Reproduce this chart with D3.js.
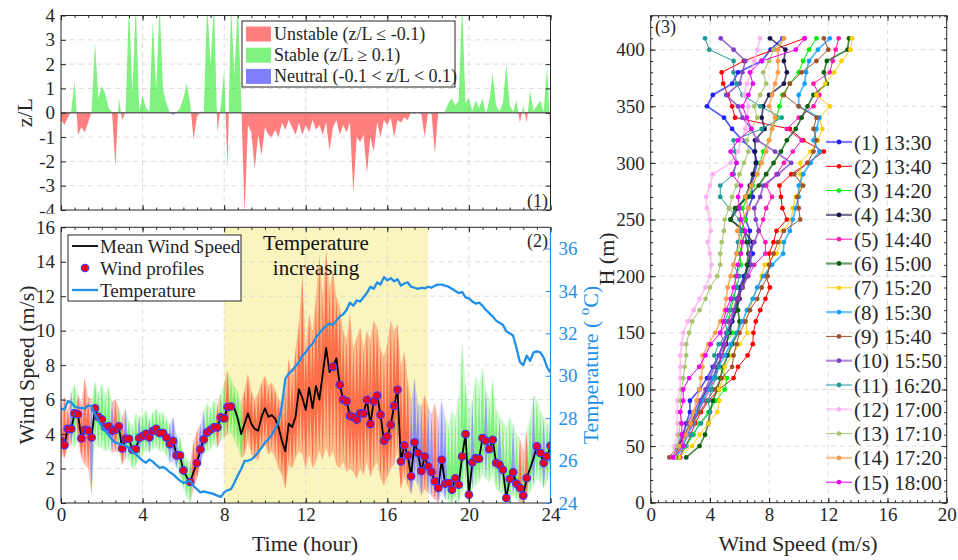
<!DOCTYPE html>
<html>
<head>
<meta charset="utf-8">
<script src="https://cdn.jsdelivr.net/npm/d3@7"></script>
<style>
  body { margin: 0; background: #fff; }
  svg { display: block; }
  svg text { font-family: 'Liberation Serif', 'Times New Roman', serif; }
</style>
</head>
<body>
<svg id="chart" width="958" height="560"></svg>
<script>
// ---- data (10-minute samples, index i -> hour i/6) ----
var sampleHours = 10 / 60;

var zL = [-0.3,-0.5,-0.2,0.05,1.3,-0.9,-0.6,-0.8,-0.4,0.05,
  2.9,0.6,1.1,0.8,0.2,0.04,-2.2,0.6,-0.3,0.05,
  4.5,0.8,4.5,0.03,0.7,0.2,0.05,3.8,0.9,4.5,
  1.0,0.4,0.02,-0.08,0.03,0.2,0.6,1.2,0.4,-1.1,
  -0.15,0.05,0.02,4.5,2.0,4.5,-0.8,0.3,1.7,-2.3,
  4.5,1.5,4.5,0.6,-4.2,-0.5,-0.8,-2.3,-0.9,-1.75,
  -0.6,-0.9,-1.0,-0.7,-1.0,-0.4,-0.7,-0.3,-0.6,-0.9,
  -0.4,-0.9,-0.5,-0.8,-0.3,-0.7,-0.5,-0.9,-0.4,-1.55,
  -0.6,-0.3,-0.9,-0.5,-0.8,-0.4,-3.3,-1.0,-1.2,-0.9,
  -2.5,-1.0,-1.6,-0.4,-1.0,-0.3,-0.5,-0.2,-1.0,-0.3,
  -0.4,-0.2,-0.3,0.02,-0.05,0.03,-0.06,-1.0,0.04,-0.05,
  -1.7,0.05,-0.04,0.06,0.4,0.6,0.3,0.5,4.5,0.4,
  0.6,0.06,0.5,0.2,0.6,-0.05,0.5,1.6,0.3,0.05,
  0.4,2.0,0.3,0.05,0.5,-0.4,0.3,-0.4,0.9,0.07,
  0.3,0.5,0.04,1.9,-1.0];

var meanWS = [3.6,3.36,4.3,4.3,5.2,5.15,3.75,4.25,4.2,3.8,
  5.5,5.0,4.85,4.4,4.45,4.2,4.25,4.45,3.17,3.73,
  3.73,3.09,3.13,3.77,3.88,4.02,3.8,4.17,4.31,4.06,
  4.06,3.8,3.42,3.6,2.76,2.76,1.89,1.5,1.22,1.8,
  2.32,3.11,3.69,4.1,4.25,4.39,4.39,4.97,4.91,5.57,
  5.6,5.5,4.9,4.0,4.6,5.2,4.6,4.3,4.2,5.0,
  5.5,5.0,5.1,4.9,4.4,3.6,3.0,4.6,4.4,5.0,
  6.6,6.1,5.4,6.7,5.5,6.8,6.0,7.5,9.0,7.6,
  7.9,8.4,6.86,6.0,5.9,5.06,4.99,4.83,5.2,5.2,
  5.99,4.58,5.9,6.24,5.12,3.61,3.86,4.54,5.64,6.57,
  2.42,3.34,2.76,1.55,3.52,2.9,1.86,2.7,2.13,1.8,
  1.26,0.87,2.51,1.12,1.16,0.77,1.43,1.06,2.7,4.0,
  0.48,2.36,2.6,2.57,3.77,3.61,3.13,3.67,2.32,2.22,
  1.93,0.29,1.39,1.78,1.12,0.87,0.43,1.45,2.0,2.6,
  3.29,2.9,2.32,2.71,3.32];

var gustHigh = [5.6,6.2,5.4,6.5,6.9,6.3, 5.8,7.3,6.2,6.0,7.1,6.4,
  7.0,6.3,6.8,5.9,6.0,5.6, 5.0,5.5,4.8,4.5,5.2,5.0,
  5.1,5.4,4.9,5.3,5.5,5.2, 5.3,4.9,4.6,5.0,4.0,3.8,
  3.0,2.6,2.4,3.6,4.2,4.6, 5.4,5.8,5.5,6.0,5.7,6.4,
  7.0,7.7,7.2,6.8,6.5,5.8, 6.6,7.5,6.5,6.0,6.4,7.0,
  7.4,6.8,7.0,6.6,6.0,5.8, 6.5,8.4,7.5,9.0,10.5,13.3,
  9.0,11.0,10.0,12.0,14.4,12.0, 14.7,12.5,13.5,12.0,11.4,10.0,
  9.5,11.0,9.0,9.6,10.2,9.0, 10.0,9.5,10.6,10.2,9.0,8.5,
  9.3,10.6,10.0,10.4,8.0,8.8, 7.2,6.0,7.3,5.8,5.6,6.3,
  5.6,5.2,5.8,4.8,6.0,5.0, 4.5,5.4,5.0,6.2,9.4,7.0,
  5.5,6.0,7.4,6.8,7.9,6.6, 6.0,7.2,5.5,5.0,4.8,4.4,
  5.0,4.6,4.0,3.8,3.0,4.2, 5.0,6.3,6.0,5.4,5.0,4.6,
  4.8];

var gustLow = [2.8,2.6,3.2,3.4,3.2,3.6, 2.6,2.2,2.0,0.4,3.4,3.2,
  3.2,3.0,3.1,2.9,3.0,2.9, 2.2,2.6,2.5,2.0,2.1,2.6,
  2.8,3.0,2.9,3.1,3.2,3.0, 3.0,2.7,2.3,2.4,2.0,1.5,
  0.8,0.3,0.0,0.8,1.4,2.2, 2.8,3.0,3.1,3.4,3.2,3.6,
  3.8,4.0,4.0,3.6,3.2,2.6, 2.8,3.6,2.8,2.6,2.5,3.2,
  3.4,2.8,3.0,2.6,2.0,1.6, 0.8,2.2,2.0,2.6,3.0,2.8,
  2.0,2.8,2.0,2.4,3.0,2.5, 3.2,2.6,3.0,2.2,2.0,2.4,
  1.8,2.0,1.8,1.4,2.0,1.6, 2.4,1.5,2.0,2.4,1.4,1.0,
  1.5,2.0,2.2,3.0,0.8,1.5, 1.0,0.5,1.4,1.0,0.4,0.8,
  0.6,0.4,0.2,0.0,0.6,0.2, 0.1,0.0,0.3,0.0,0.6,1.0,
  0.0,0.8,1.0,1.2,1.6,1.4, 1.2,1.6,0.8,0.6,0.5,0.0,
  0.3,0.4,0.2,0.0,0.0,0.3, 0.6,1.0,1.4,1.2,0.8,1.2,
  1.6];

var tempC = [28.45,28.4,28.8,28.75,28.55,28.5,28.48,28.45,28.6,28.55,
  28.2,27.9,27.6,27.4,27.2,27.0,26.85,26.8,26.75,26.7,
  26.6,26.4,26.3,26.15,26.0,25.9,26.05,25.95,25.8,25.65,
  25.7,25.6,25.45,25.35,25.2,25.05,24.95,25.0,25.05,24.8,
  24.65,24.5,24.55,24.5,24.47,24.42,24.35,24.28,24.5,24.6,
  24.65,24.95,25.3,25.6,25.98,26.0,26.05,26.2,26.4,26.6,
  26.85,27.0,27.2,27.5,27.8,28.6,29.85,30.1,30.25,30.45,
  30.65,30.95,31.1,31.35,31.5,31.8,32.0,32.2,32.35,32.45,
  32.4,32.6,32.8,32.9,33.1,33.45,33.3,33.55,33.5,33.7,
  33.9,34.2,34.1,34.4,34.3,34.65,34.5,34.6,34.45,34.55,
  34.25,34.35,34.4,34.2,34.15,34.1,34.15,34.12,34.2,34.15,
  34.25,34.3,34.3,34.25,34.2,34.1,34.0,33.9,33.95,33.7,
  33.65,33.5,33.4,33.45,33.3,33.1,32.95,32.8,32.6,32.5,
  32.4,32.1,32.0,31.9,31.3,30.65,30.5,30.95,30.7,31.1,
  31.15,31.1,30.85,30.4,30.15];

// samples where a wind profile was taken
var profileIdx = [0,1,2,3,4,5,6,7,8,9,10,11,12,13,14,15,16,17,18,19,
  20,21,22,23,24,25,26,27,28,29,30,31,32,33,34,35,36,38,
  40,41,42,43,44,45,46,47,48,49,50,
  80,82,83,84,85,86,87,88,89,90,91,92,93,94,95,96,97,98,99,
  100,101,102,103,104,105,106,107,108,109,110,111,112,113,114,115,116,117,118,119,
  120,121,122,123,124,125,126,127,128,129,130,131,132,133,134,135,136,137,
  140,141,142,143,144];

// ---- panel 3 profiles ----
var heights = [40,50,60,70,80,90,100,110,120,130,140,150,160,170,180,190,200,210,220,230,
  240,250,260,270,280,290,300,310,320,330,340,350,360,370,380,390,400,410];

var ws1330 = [1.6,1.9,2.2,2.4,2.65,2.65,3.3,3.8,4.2,4.6,4.9,5.2,5.5,5.7,5.9,6.0,6.3,6.6,6.9,6.6,
  6.7,6.4,6.6,6.9,6.8,7.0,7.2,7.0,6.2,5.5,4.95,3.8,4.2,5.5,5.9,7.5,8.1,8.9];
var ws1340 = [1.9,2.4,2.7,3.0,3.4,3.9,4.6,5.6,5.9,6.55,6.9,6.94,7.1,7.4,7.75,8.05,7.8,8.1,8.0,8.3,
  8.5,9.2,8.9,8.8,8.7,9.5,10.6,11.7,10.3,9.4,5.7,5.5,5.2,4.9,4.8,6.3,8.3,10.4];
var ws1420 = [1.9,2.4,2.9,3.3,3.9,4.4,5.0,5.15,4.6,4.8,5.0,5.55,5.2,5.4,5.6,5.8,5.7,6.1,6.0,6.2,
  6.1,6.4,6.2,6.6,6.9,7.2,7.4,7.6,8.0,8.2,8.5,8.7,8.9,9.4,10.0,10.3,10.7,11.2];
var ws1430 = [1.6,1.9,2.3,2.7,3.1,3.4,3.8,4.2,4.5,4.8,5.1,5.3,5.5,5.8,6.0,6.1,6.4,6.6,6.7,6.9,
  6.3,5.4,5.9,6.4,6.7,6.9,7.1,7.05,7.05,7.7,7.5,7.6,8.0,9.0,9.2,9.0,9.1,8.06];
var ws1440 = [2.0,2.2,2.5,2.8,3.2,3.6,4.0,4.3,4.6,4.8,5.0,4.7,5.2,5.6,5.9,6.2,6.6,7.0,7.75,7.75,
  7.3,7.6,7.8,8.2,7.8,8.5,9.0,9.6,10.2,9.2,10.0,11.0,11.4,11.0,12.1,12.3,12.5,12.7];
var ws1500 = [2.4,3.3,3.67,3.9,4.0,4.2,4.5,4.7,4.9,5.2,5.5,5.9,6.0,5.9,5.8,6.2,6.4,6.5,6.6,6.5,
  6.3,5.4,5.7,6.6,7.3,7.8,8.3,8.8,9.2,9.8,10.2,10.6,11.0,11.9,11.7,11.9,13.3,13.4];
var ws1520 = [1.9,2.8,3.3,3.9,4.5,4.64,4.6,4.9,5.0,5.5,6.0,6.53,6.4,6.7,6.9,7.2,7.5,7.7,8.5,8.8,
  8.9,9.5,9.6,9.8,10.2,10.1,10.1,10.8,11.3,11.6,11.4,12.1,11.2,11.8,12.4,12.9,13.5,13.6];
var ws1530 = [1.7,2.1,2.5,2.9,3.2,3.5,3.9,4.2,4.6,5.0,5.4,5.8,6.2,6.5,6.9,7.2,7.6,8.2,8.95,9.0,
  9.4,9.6,9.8,10.0,10.0,10.3,10.8,11.4,11.0,11.2,11.4,10.0,10.0,10.4,10.5,10.7,11.3,12.1];
var ws1540 = [1.26,1.8,2.3,2.8,3.3,3.8,4.3,4.8,5.5,5.6,5.8,6.0,6.4,6.7,7.2,7.5,7.9,8.0,8.3,8.6,
  9.0,10.1,10.0,9.9,10.3,9.7,10.6,11.0,11.2,11.0,11.2,10.0,9.0,9.4,10.2,11.2,12.0,11.7];
var ws1550 = [1.5,1.8,2.1,2.5,2.9,3.3,3.7,4.0,4.3,4.6,4.9,5.1,5.4,5.6,5.8,6.2,6.5,6.8,6.7,7.0,
  7.3,7.1,7.0,7.4,7.6,8.6,9.5,8.4,7.2,6.8,6.2,5.9,5.1,6.0,6.2,6.4,5.6,4.73];
var ws1620 = [1.7,2.3,2.8,3.4,4.0,3.9,4.1,4.4,4.6,4.3,4.6,5.2,5.0,5.3,5.5,5.8,6.0,5.6,5.8,5.9,
  6.1,6.0,5.3,4.7,4.7,5.6,5.8,5.7,5.6,7.5,8.85,7.4,6.2,5.8,5.6,5.6,3.96,3.67];
var ws1700 = [1.5,1.6,1.8,1.8,1.8,1.8,2.0,2.0,2.0,2.0,2.1,2.2,2.5,2.9,3.3,3.7,4.0,4.1,4.0,3.85,
  4.05,4.0,3.8,3.75,4.0,4.2,5.4,5.9,6.1,6.4,6.5,6.6,6.3,6.5,6.8,7.0,7.2,7.4];
var ws1710 = [1.6,1.8,1.9,2.0,2.0,2.0,2.1,2.2,2.3,2.4,2.4,2.6,2.8,3.3,3.7,4.0,4.5,4.7,4.7,4.8,
  4.95,5.0,5.3,5.5,5.8,6.0,6.3,6.6,6.5,6.8,7.2,7.0,7.4,7.8,7.6,8.0,8.3,9.0];
var ws1720 = [1.6,2.0,2.4,2.7,2.9,3.1,3.3,3.4,3.5,3.5,3.9,4.35,4.7,5.0,5.1,5.2,5.4,5.6,5.8,6.1,
  5.85,6.2,6.6,6.4,6.8,7.2,7.5,7.8,8.0,8.2,8.4,8.0,8.2,8.4,8.6,8.6,8.6,9.0];
var ws1800 = [1.5,2.2,2.1,2.1,2.0,2.2,2.2,2.6,3.27,3.7,4.05,4.7,4.9,5.1,5.4,5.6,5.8,5.9,6.1,6.2,
  6.4,6.1,6.0,5.9,6.1,5.5,5.8,5.4,5.9,6.8,6.5,6.2,6.6,6.9,6.7,7.5,9.8,10.4];

var profileLabels = ['(1) 13:30','(2) 13:40','(3) 14:20','(4) 14:30','(5) 14:40','(6) 15:00',
  '(7) 15:20','(8) 15:30','(9) 15:40','(10) 15:50','(11) 16:20','(12) 17:00','(13) 17:10',
  '(14) 17:20','(15) 18:00'];
var profileColors = ['#2020FF','#FF0000','#00F000','#16164A','#FF1AB8','#0B5E0B','#FFD000',
  '#10A0FF','#A0522D','#7F3FC8','#1F9A9A','#FFB0F0','#A8C46C','#FF9A4A','#F000F0'];
var profileSeries = [ws1330, ws1340, ws1420, ws1430, ws1440, ws1500, ws1520, ws1530,
  ws1540, ws1550, ws1620, ws1700, ws1710, ws1720, ws1800];

var timeTicks = [0, 4, 8, 12, 16, 20, 24];
var zTicks = [-4, -3, -2, -1, 0, 1, 2, 3, 4];
var wsTicks = [0, 2, 4, 6, 8, 10, 12, 14, 16];
var tempTicks = [24, 26, 28, 30, 32, 34, 36];
var speedTicks = [0, 4, 8, 12, 16, 20];
var heightTicks = [0, 50, 100, 150, 200, 250, 300, 350, 400];

// ---- setup ----
var font = "'Liberation Serif', 'Times New Roman', serif";
var axisColor = '#262626';
var gridColor = '#d4d4d4';
var tempColor = '#1E8FEA';

var svg = d3.select('#chart');
var defs = svg.append('defs');

function hourAt(i) { return i * sampleHours; }
function stabilityClass(v) { return v <= -0.1 ? 0 : (v >= 0.1 ? 1 : 2); }

var xTime = d3.scaleLinear().domain([0, 24]).range([61, 550.5]);
var yZ = d3.scaleLinear().domain([-4, 4]).range([210, 15.5]);
var yWS = d3.scaleLinear().domain([0, 16]).range([503, 227.3]);
var yT = d3.scaleLinear().domain([24, 37]).range([503, 227.3]);
var xSpd = d3.scaleLinear().domain([0, 20]).range([650.7, 946.7]);
var yH = d3.scaleLinear().domain([0, 430]).range([502.7, 15.7]);

function addClip(id, x0, y0, x1, y1) {
  defs.append('clipPath').attr('id', id).append('rect')
    .attr('x', x0).attr('y', y0).attr('width', x1 - x0).attr('height', y1 - y0);
}

function drawGrid(g, xs, ys, xScale, yScale) {
  var y0 = yScale.range()[0], y1 = yScale.range()[1];
  var x0 = xScale.range()[0], x1 = xScale.range()[1];
  g.selectAll(null).data(xs).enter().append('line')
    .attr('x1', function(d) { return xScale(d); }).attr('x2', function(d) { return xScale(d); })
    .attr('y1', y0).attr('y2', y1)
    .attr('stroke', gridColor).attr('stroke-width', 0.8).attr('stroke-dasharray', '5,4');
  g.selectAll(null).data(ys).enter().append('line')
    .attr('y1', function(d) { return yScale(d); }).attr('y2', function(d) { return yScale(d); })
    .attr('x1', x0).attr('x2', x1)
    .attr('stroke', gridColor).attr('stroke-width', 0.8).attr('stroke-dasharray', '5,4');
}

function drawAxis(axis, tx, ty, color, size) {
  var a = svg.append('g').attr('transform', 'translate(' + tx + ',' + ty + ')').call(axis);
  a.attr('font-family', font).attr('font-size', size || 19);
  a.select('.domain').remove();
  a.selectAll('line').attr('stroke', color || axisColor);
  a.selectAll('text').attr('fill', color || axisColor);
  return a;
}

function plainFormat(d) { return String(d); }

// =========== panel 1: z/L ===========
addClip('clip1', 61, 15.5, 550.5, 210);
// local coordinates of the left axis group (translated by x = 61)
addClip('clipLab1', -70, 0, 20, 213.5);
var p1 = svg.append('g');
drawGrid(p1, [4, 8, 12, 16, 20], [-3, -2, -1, 1, 2, 3], xTime, yZ);

var zPaths = [d3.path(), d3.path(), d3.path()];
var zFills = ['#FF0000', '#00E600', '#0000FF'];
var zero1 = yZ(0);
for (var i = 0; i < zL.length - 1; i++) {
  var a = zL[i], b = zL[i + 1];
  var xa = xTime(hourAt(i)), xb = xTime(hourAt(i + 1));
  if (a * b < 0) {
    var xz = xa + (xb - xa) * a / (a - b);
    var pa = zPaths[stabilityClass(a)];
    pa.moveTo(xa, zero1); pa.lineTo(xa, yZ(a)); pa.lineTo(xz, zero1); pa.closePath();
    var pb = zPaths[stabilityClass(b)];
    pb.moveTo(xz, zero1); pb.lineTo(xb, yZ(b)); pb.lineTo(xb, zero1); pb.closePath();
  } else {
    var p = zPaths[stabilityClass(Math.abs(a) >= Math.abs(b) ? a : b)];
    p.moveTo(xa, zero1); p.lineTo(xa, yZ(a)); p.lineTo(xb, yZ(b)); p.lineTo(xb, zero1); p.closePath();
  }
}
var z1 = p1.append('g').attr('clip-path', 'url(#clip1)');
zPaths.forEach(function(p, k) {
  z1.append('path').attr('d', p.toString()).attr('fill', zFills[k]).attr('fill-opacity', 0.5);
});
z1.append('line').attr('x1', 61).attr('x2', 550.5).attr('y1', zero1).attr('y2', zero1)
  .attr('stroke', '#666').attr('stroke-width', 1.3);

drawAxis(d3.axisLeft(yZ).tickValues(zTicks).tickSize(-5).tickPadding(6).tickFormat(plainFormat), 61, 0)
  .attr('clip-path', 'url(#clipLab1)');
drawAxis(d3.axisRight(yZ).tickValues(zTicks).tickSize(-5).tickFormat(''), 550.5, 0);
drawAxis(d3.axisBottom(xTime).tickValues(timeTicks).tickSize(-5).tickFormat(''), 0, 210);
drawAxis(d3.axisTop(xTime).tickValues(timeTicks).tickSize(-5).tickFormat(''), 0, 15.5);
drawAxis(d3.axisBottom(xTime).tickValues(d3.range(0, 24.01, 2 / 3)).tickSize(-2.5).tickFormat(''), 0, 210);
drawAxis(d3.axisTop(xTime).tickValues(d3.range(0, 24.01, 2 / 3)).tickSize(-2.5).tickFormat(''), 0, 15.5);
p1.append('rect').attr('x', 61).attr('y', 15.5).attr('width', 489.5).attr('height', 194.5)
  .attr('fill', 'none').attr('stroke', axisColor).attr('stroke-width', 1);

svg.append('text').attr('transform', 'translate(32,112.7) rotate(-90)')
  .attr('text-anchor', 'middle').attr('font-size', 22).attr('fill', axisColor).text('z/L');
svg.append('text').attr('x', 548).attr('y', 207).attr('text-anchor', 'end')
  .attr('font-size', 18).attr('fill', axisColor).text('(1)');

// legend 1
var leg1 = svg.append('g').attr('transform', 'translate(242,21)');
leg1.append('rect').attr('width', 213).attr('height', 66).attr('fill', '#fff')
  .attr('stroke', axisColor).attr('stroke-width', 1);
var leg1Text = ['Unstable (z/L \u2264 -0.1)', 'Stable (z/L \u2265 0.1)', 'Neutral (-0.1 < z/L < 0.1)'];
leg1Text.forEach(function(t, k) {
  leg1.append('rect').attr('x', 4).attr('y', 5.5 + k * 21.2).attr('width', 25).attr('height', 15)
    .attr('fill', zFills[k]).attr('fill-opacity', 0.5);
  leg1.append('text').attr('x', 32).attr('y', 19 + k * 21.2).attr('font-size', 18)
    .attr('fill', axisColor).text(t);
});

// =========== panel 2: wind speed & temperature ===========
addClip('clip2', 61, 227.3, 550.5, 503);
var p2 = svg.append('g');
p2.append('rect').attr('x', xTime(8)).attr('y', 227.3)
  .attr('width', xTime(18) - xTime(8)).attr('height', 503 - 227.3).attr('fill', '#FAF5BF');
drawGrid(p2, [4, 8, 12, 16, 20], [2, 4, 6, 8, 10, 12, 14], xTime, yWS);

// fluctuation envelope: faint band plus spikes from the mean out to the extremes
var bandPaths = [d3.path(), d3.path(), d3.path()];
var spikePaths = [d3.path(), d3.path(), d3.path()];
var bandFills = ['#FF3A1A', '#2EE82E', '#3A3AFF'];
var bandOpacity = [0.3, 0.22, 0.2];
var spikeOpacity = [0.6, 0.5, 0.45];
for (var j = 0; j < meanWS.length - 1; j++) {
  var za = zL[j], zb = zL[j + 1];
  var bp = bandPaths[stabilityClass(Math.abs(za) >= Math.abs(zb) ? za : zb)];
  var x0 = xTime(hourAt(j)), x1 = xTime(hourAt(j + 1));
  bp.moveTo(x0, yWS(gustLow[j])); bp.lineTo(x0, yWS(gustHigh[j]));
  bp.lineTo(x1, yWS(gustHigh[j + 1])); bp.lineTo(x1, yWS(gustLow[j + 1])); bp.closePath();
}
var halfW = (xTime(sampleHours) - xTime(0)) * 0.62;
meanWS.forEach(function(m, k) {
  var sp = spikePaths[stabilityClass(zL[k])];
  var xc = xTime(hourAt(k));
  sp.moveTo(xc - halfW, yWS(m)); sp.lineTo(xc, yWS(gustHigh[k])); sp.lineTo(xc + halfW, yWS(m));
  sp.lineTo(xc, yWS(gustLow[k])); sp.closePath();
});
var b2 = p2.append('g').attr('clip-path', 'url(#clip2)');
bandPaths.forEach(function(p, k) {
  b2.append('path').attr('d', p.toString()).attr('fill', bandFills[k]).attr('fill-opacity', bandOpacity[k]);
});
spikePaths.forEach(function(p, k) {
  b2.append('path').attr('d', p.toString()).attr('fill', bandFills[k]).attr('fill-opacity', spikeOpacity[k]);
});

var meanLine = d3.line().x(function(d, i) { return xTime(hourAt(i)); }).y(function(d) { return yWS(d); });
b2.append('path').attr('d', meanLine(meanWS)).attr('fill', 'none')
  .attr('stroke', '#000').attr('stroke-width', 1.8).attr('stroke-linejoin', 'round');
b2.selectAll('circle.profile').data(profileIdx).enter().append('circle')
  .attr('class', 'profile')
  .attr('cx', function(d) { return xTime(hourAt(d)); })
  .attr('cy', function(d) { return yWS(meanWS[d]); })
  .attr('r', 3.8).attr('fill', '#F00018').attr('stroke', '#3A3AFF').attr('stroke-width', 1.1);

var tempLine = d3.line().x(function(d, i) { return xTime(hourAt(i)); }).y(function(d) { return yT(d); });
b2.append('path').attr('d', tempLine(tempC)).attr('fill', 'none')
  .attr('stroke', tempColor).attr('stroke-width', 2.3).attr('stroke-linejoin', 'round');

drawAxis(d3.axisLeft(yWS).tickValues(wsTicks).tickSize(-5).tickPadding(6).tickFormat(plainFormat), 61, 0);
drawAxis(d3.axisRight(yT).tickValues(tempTicks).tickSize(-5).tickPadding(8).tickFormat(plainFormat), 550.5, 0, tempColor);
drawAxis(d3.axisBottom(xTime).tickValues(timeTicks).tickSize(-5).tickPadding(5).tickFormat(plainFormat), 0, 503);
drawAxis(d3.axisTop(xTime).tickValues(timeTicks).tickSize(-5).tickFormat(''), 0, 227.3);
drawAxis(d3.axisBottom(xTime).tickValues(d3.range(0, 24.01, 2 / 3)).tickSize(-2.5).tickFormat(''), 0, 503);
drawAxis(d3.axisTop(xTime).tickValues(d3.range(0, 24.01, 2 / 3)).tickSize(-2.5).tickFormat(''), 0, 227.3);
p2.append('path').attr('d', 'M550.5,227.3H61V503H550.5').attr('fill', 'none')
  .attr('stroke', axisColor).attr('stroke-width', 1);
p2.append('line').attr('x1', 550.5).attr('x2', 550.5).attr('y1', 227.3).attr('y2', 503)
  .attr('stroke', tempColor).attr('stroke-width', 1.2);

svg.append('text').attr('x', 316).attr('y', 250).attr('text-anchor', 'middle')
  .attr('font-size', 21).attr('fill', '#111').text('Temperature');
svg.append('text').attr('x', 316).attr('y', 275).attr('text-anchor', 'middle')
  .attr('font-size', 21).attr('fill', '#111').text('increasing');
svg.append('text').attr('x', 548).attr('y', 247).attr('text-anchor', 'end')
  .attr('font-size', 18).attr('fill', axisColor).text('(2)');

svg.append('text').attr('transform', 'translate(34,365) rotate(-90)')
  .attr('text-anchor', 'middle').attr('font-size', 22).attr('fill', axisColor).text('Wind Speed (m/s)');
var tLabel = svg.append('text').attr('transform', 'translate(598,365) rotate(-90)')
  .attr('text-anchor', 'middle').attr('font-size', 22).attr('fill', tempColor);
tLabel.append('tspan').text('Temperature ( ');
tLabel.append('tspan').attr('dy', -9).attr('font-size', 15).text('o');
tLabel.append('tspan').attr('dy', 9).text('C)');
svg.append('text').attr('x', 305).attr('y', 551).attr('text-anchor', 'middle')
  .attr('font-size', 22).attr('fill', axisColor).text('Time (hour)');

// legend 2
var leg2 = svg.append('g').attr('transform', 'translate(68,235)');
leg2.append('rect').attr('width', 173).attr('height', 66).attr('fill', '#fff')
  .attr('stroke', axisColor).attr('stroke-width', 1);
leg2.append('line').attr('x1', 4).attr('x2', 30).attr('y1', 11).attr('y2', 11)
  .attr('stroke', '#000').attr('stroke-width', 1.8);
leg2.append('circle').attr('cx', 17).attr('cy', 33).attr('r', 3.8)
  .attr('fill', '#F00018').attr('stroke', '#3A3AFF').attr('stroke-width', 1.1);
leg2.append('line').attr('x1', 4).attr('x2', 30).attr('y1', 55).attr('y2', 55)
  .attr('stroke', tempColor).attr('stroke-width', 2.3);
['Mean Wind Speed', 'Wind profiles', 'Temperature'].forEach(function(t, k) {
  leg2.append('text').attr('x', 32).attr('y', 17.5 + k * 22).attr('font-size', 19)
    .attr('fill', axisColor).text(t);
});

// =========== panel 3: wind profiles ===========
var p3 = svg.append('g');
drawGrid(p3, [4, 8, 12, 16], [50, 100, 150, 200, 250, 300, 350, 400], xSpd, yH);

var thick = [true, false, false, true, false, true, false, true, false, true, false, true, false, true, false];
var profLine = d3.line().x(function(d) { return xSpd(d); }).y(function(d, i) { return yH(heights[i]); });
profileSeries.forEach(function(series, k) {
  var g = p3.append('g');
  g.append('path').attr('d', profLine(series)).attr('fill', 'none')
    .attr('stroke', profileColors[k]).attr('stroke-width', thick[k] ? 1.7 : 1)
    .attr('stroke-opacity', thick[k] ? 0.75 : 1);
  g.selectAll('circle').data(series).enter().append('circle')
    .attr('cx', function(d) { return xSpd(d); })
    .attr('cy', function(d, i) { return yH(heights[i]); })
    .attr('r', 2.4).attr('fill', profileColors[k]);
});

drawAxis(d3.axisLeft(yH).tickValues(heightTicks).tickSize(-5).tickPadding(6).tickFormat(plainFormat), 650.7, 0);
drawAxis(d3.axisRight(yH).tickValues(heightTicks).tickSize(-5).tickFormat(''), 946.7, 0);
drawAxis(d3.axisBottom(xSpd).tickValues(speedTicks).tickSize(-5).tickPadding(5).tickFormat(plainFormat), 0, 502.7);
drawAxis(d3.axisTop(xSpd).tickValues(speedTicks).tickSize(-5).tickFormat(''), 0, 15.7);
drawAxis(d3.axisLeft(yH).tickValues(d3.range(0, 431, 10)).tickSize(-2.5).tickFormat(''), 650.7, 0);
drawAxis(d3.axisRight(yH).tickValues(d3.range(0, 431, 10)).tickSize(-2.5).tickFormat(''), 946.7, 0);
drawAxis(d3.axisBottom(xSpd).tickValues(d3.range(0, 20.01, 0.5)).tickSize(-2.5).tickFormat(''), 0, 502.7);
drawAxis(d3.axisTop(xSpd).tickValues(d3.range(0, 20.01, 0.5)).tickSize(-2.5).tickFormat(''), 0, 15.7);
p3.append('rect').attr('x', 650.7).attr('y', 15.7).attr('width', 296).attr('height', 487)
  .attr('fill', 'none').attr('stroke', axisColor).attr('stroke-width', 1);

svg.append('text').attr('x', 655).attr('y', 33).attr('font-size', 18).attr('fill', axisColor).text('(3)');
svg.append('text').attr('transform', 'translate(614,259) rotate(-90)')
  .attr('text-anchor', 'middle').attr('font-size', 22).attr('fill', axisColor).text('H (m)');
svg.append('text').attr('x', 798).attr('y', 551).attr('text-anchor', 'middle')
  .attr('font-size', 22).attr('fill', axisColor).text('Wind Speed (m/s)');

// legend 3
var leg3 = svg.append('g').attr('transform', 'translate(826,142)');
profileLabels.forEach(function(t, k) {
  var yy = k * 24.3;
  leg3.append('line').attr('x1', 0).attr('x2', 26).attr('y1', yy).attr('y2', yy)
    .attr('stroke', profileColors[k]).attr('stroke-width', thick[k] ? 2.2 : 1)
    .attr('stroke-opacity', thick[k] ? 0.6 : 1);
  leg3.append('circle').attr('cx', 13).attr('cy', yy).attr('r', 2.4).attr('fill', profileColors[k]);
  leg3.append('text').attr('x', 28).attr('y', yy + 7.5).attr('font-size', 21)
    .attr('fill', axisColor).text(t);
});
</script>
</body>
</html>
